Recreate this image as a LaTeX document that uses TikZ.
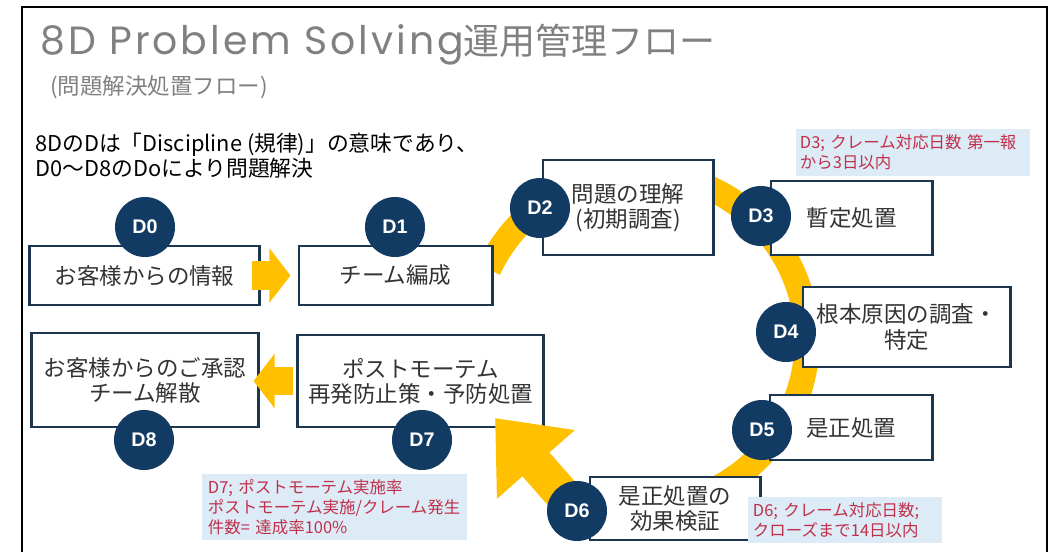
\documentclass[tikz,border=0pt]{standalone}
\usepackage{fontspec}
\setmainfont{Noto Sans CJK JP}
\newfontfamily\titlefont{Poppins}[LetterSpace=7.5]
\newfontfamily\labelfont{Liberation Sans}
\usepackage{tikz}
\usetikzlibrary{arrows.meta,calc,positioning}
\definecolor{navy}{HTML}{123B63}
\definecolor{boxline}{HTML}{1D3650}
\definecolor{gold}{HTML}{FFC000}
\definecolor{notebg}{HTML}{DDEBF7}
\definecolor{notered}{HTML}{C0304A}
\definecolor{titlegray}{HTML}{808080}
\definecolor{boxtext}{HTML}{333333}

\begin{document}
\begin{tikzpicture}[x=0.025cm, y=0.025cm,
    stepbox/.style={draw=boxline, line width=2.1pt, fill=white, align=center,
      text=boxtext, inner sep=0pt, font=\fontsize{16}{17.8}\selectfont},
    dcircle/.style={circle, fill=navy, minimum size=1.5cm, inner sep=0pt,
      text=white, font=\labelfont\bfseries\fontsize{14}{14}\selectfont},
    note/.style={fill=notebg, text=notered, align=left, inner ysep=0pt,
      font=\fontsize{11.7}{14.2}\selectfont},
    band/.style={draw=gold, line width=17.8pt},
    blockarrow/.style={draw=gold, line width=20pt, -{Triangle[width=38pt,length=15pt]}},
    bigarrow/.style={draw=gold, line width=25.6pt, -{Triangle[width=71pt,length=44pt]}}]
        % Page frame
        \useasboundingbox (0,0) rectangle (1058,-552);
        \draw[line width=1.6pt] (22,-552) -- (22,-7) -- (1047,-7) -- (1047,-552);
        % Titles
        \node[anchor=base west, inner sep=0pt, text=titlegray, font=\fontsize{25.6}{26}\selectfont] (title) at (40,-54) {{\titlefont\fontsize{28}{28}\selectfont 8D Problem Solving}運用管理フロー};
        \node[anchor=base west, inner sep=0pt, text=titlegray, font=\fontsize{16}{17}\selectfont] (subtitle) at (50,-94) {(問題解決処置フロー)};
        \node[anchor=north west, inner sep=0pt, align=left, font=\fontsize{15.5}{14.6}\selectfont] (intro) at (35,-133) {8DのDは「Discipline (規律)」の意味であり、\\D0〜D8のDoにより問題解決};
        % Yellow track D1 -> D6
        \coordinate (ctr) at (640,-340);
        \draw[band] (ctr) ++(155:4.175cm) arc[start angle=155, end angle=-70, radius=4.175cm];
        % Step boxes
        \node[stepbox, minimum width=5.725cm, minimum height=1.475cm] (d0box) at (144.5,-275.5) {お客様からの情報};
        \node[stepbox, minimum width=4.825cm, minimum height=1.475cm] (d1box) at (395.5,-275.5) {チーム編成};
        \node[stepbox, minimum width=4.25cm, minimum height=2.375cm] (d2box) at (628,-207.5) {問題の理解\\(初期調査)};
        \node[stepbox, minimum width=4.025cm, minimum height=1.85cm] (d3box) at (851.5,-218) {暫定処置};
        \node[stepbox, minimum width=5.175cm, minimum height=2cm] (d4box) at (906.5,-327) {根本原因の調査・\\特定};
        \node[stepbox, minimum width=4.05cm, minimum height=1.625cm] (d5box) at (851,-427.5) {是正処置};
        \node[stepbox, minimum width=4.25cm, minimum height=1.575cm] (d6box) at (675,-508.5) {是正処置の\\効果検証};
        \node[stepbox, minimum width=6.125cm, minimum height=2.3cm] (d7box) at (420.5,-381) {ポストモーテム\\再発防止策・予防処置};
        \node[stepbox, minimum width=5.65cm, minimum height=2.35cm] (d8box) at (145,-380) {お客様からのご承認\\チーム解散};
        % Big arrow D6 -> D7
        \coordinate (d6pos) at (577,-511);
        \coordinate (d7tip) at (495,-418);
        \draw[bigarrow] (d6pos) -- (d7tip);
        % Step numbers
        \node[dcircle] (d0c) at (145,-227) {D0};
        \node[dcircle] (d1c) at (395,-227) {D1};
        \node[dcircle] (d2c) at (540,-208) {D2};
        \node[dcircle] (d3c) at (761,-216) {D3};
        \node[dcircle] (d4c) at (786,-332) {D4};
        \node[dcircle] (d5c) at (762,-430) {D5};
        \node[dcircle] (d6c) at (d6pos) {D6};
        \node[dcircle] (d7c) at (422,-440) {D7};
        \node[dcircle] (d8c) at (144,-440) {D8};
        % Block arrows
        \draw[blockarrow] ($(d0box.east)+(-9,0)$) -- ($(d1box.west)+(-7,0)$);
        \draw[blockarrow] ($(d7box.west)+(-3,0)$) -- ($(d8box.east |- d7box.west)+(-6,0)$);
        % KPI notes
        \node[note, text width=5.65cm, inner xsep=0.1cm, minimum height=1.175cm] (d3note) at (913,-152.5) {D3; クレーム対応日数 第一報\\から3日以内};
        \node[note, text width=4.6cm, inner xsep=0.125cm, minimum height=1.15cm] (d6note) at (845,-520) {D6; クレーム対応日数;\\クローズまで14日以内};
        \node[note, text width=6.325cm, inner xsep=0.15cm, minimum height=1.65cm] (d7note) at (334.5,-507) {D7; ポストモーテム実施率\\ポストモーテム実施/クレーム発生\\件数= 達成率100\%};
\end{tikzpicture}
\end{document}
